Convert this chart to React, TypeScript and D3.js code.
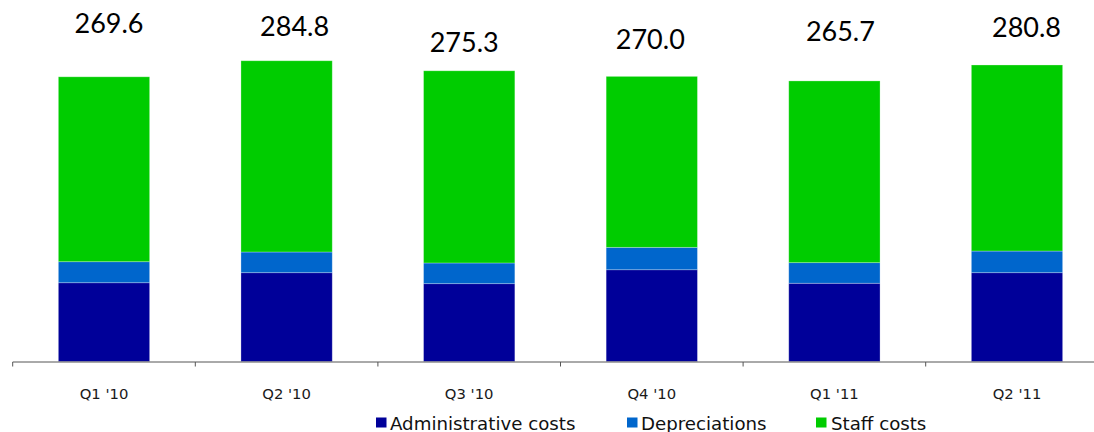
import React from "react";
import * as d3 from "d3";

// Quarterly operating expenses, split by cost type
const categories = ["Q1 '10", "Q2 '10", "Q3 '10", "Q4 '10", "Q1 '11", "Q2 '11"];
const administrativeCosts = [74.6, 84.1, 73.7, 86.9, 74.1, 84.1];
const depreciations = [19.9, 19.6, 19.6, 21.2, 19.5, 20.5];
const staffCosts = [175.1, 181.1, 182.0, 161.9, 172.1, 176.2];

const seriesNames = ["Administrative costs", "Depreciations", "Staff costs"];
const seriesColors = ["#000099", "#0066cc", "#00cc00"];

// Hand-placed offsets of the total labels: [dx from bar centre, baseline height above bar top]
const totalLabelNudges: [number, number][] = [
  [5, 44],
  [8, 25],
  [-5, 18.5],
  [-1.5, 27.5],
  [6, 39.5],
  [9.5, 28],
];

const W = 1094;
const H = 432;
const baseY = 361.5;
const axisLeft = 12.7;
const step = 182.6;

export default function App() {
  const rows = categories.map((c, i) => ({
    category: c,
    [seriesNames[0]]: administrativeCosts[i],
    [seriesNames[1]]: depreciations[i],
    [seriesNames[2]]: staffCosts[i],
  }));

  const x = d3
    .scaleBand<string>()
    .domain(categories)
    .range([axisLeft, axisLeft + step * categories.length])
    .paddingInner(0.5)
    .paddingOuter(0.25);

  const y = d3.scaleLinear().domain([0, 300]).range([baseY, baseY - 300 * 1.056]);

  const stacked = d3.stack<any>().keys(seriesNames)(rows);
  const totals = categories.map((_, i) => administrativeCosts[i] + depreciations[i] + staffCosts[i]);

  const tickXs = d3.range(categories.length + 1).map((i) => axisLeft + i * x.step());

  const legendItems = [
    { name: seriesNames[0], sx: 376, tx: 390 },
    { name: seriesNames[1], sx: 627, tx: 641 },
    { name: seriesNames[2], sx: 816, tx: 831 },
  ];

  return (
    <svg
      width={W}
      height={H}
      style={{ position: "fixed", left: 0, top: 0, background: "#fff", display: "block" }}
    >
      <rect x={0} y={0} width={W} height={H} fill="#fff" />
      {stacked.map((layer, si) => (
        <g key={layer.key} fill={seriesColors[si]}>
          {layer.map((d, i) => (
            <rect
              key={i}
              x={x(categories[i])}
              y={y(d[1])}
              width={x.bandwidth()}
              height={y(d[0]) - y(d[1])}
              stroke="rgba(255,255,255,0.35)"
              strokeWidth={0.8}
            />
          ))}
        </g>
      ))}

      {/* category axis */}
      <line x1={axisLeft} x2={W} y1={baseY + 0.5} y2={baseY + 0.5} stroke="#555" strokeWidth={1} />
      {tickXs.map((tx, i) => (
        <line key={i} x1={tx} x2={tx} y1={baseY + 0.5} y2={baseY + 5} stroke="#555" strokeWidth={1} />
      ))}
      {categories.map((c) => (
        <text
          key={c}
          x={(x(c) ?? 0) + x.bandwidth() / 2}
          y={398.5}
          textAnchor="middle"
          fontFamily="'DejaVu Sans', Verdana, sans-serif"
          fontSize={14.8}
          fill="#1a1a1a"
        >
          {c}
        </text>
      ))}

      {/* totals */}
      {totals.map((t, i) => (
        <text
          key={i}
          x={(x(categories[i]) ?? 0) + x.bandwidth() / 2 + totalLabelNudges[i][0]}
          y={y(t) - totalLabelNudges[i][1]}
          textAnchor="middle"
          fontFamily="Lato, 'Open Sans', sans-serif"
          fontSize={27}
          fill="#000"
        >
          {d3.format(".1f")(t)}
        </text>
      ))}

      {/* legend */}
      {legendItems.map((l, i) => (
        <g key={l.name}>
          <rect x={l.sx} y={417.5} width={10.5} height={10} fill={seriesColors[i]} />
          <text
            x={l.tx}
            y={430}
            fontFamily="'DejaVu Sans', Verdana, sans-serif"
            fontSize={18.2}
            fill="#111"
          >
            {l.name}
          </text>
        </g>
      ))}
    </svg>
  );
}
